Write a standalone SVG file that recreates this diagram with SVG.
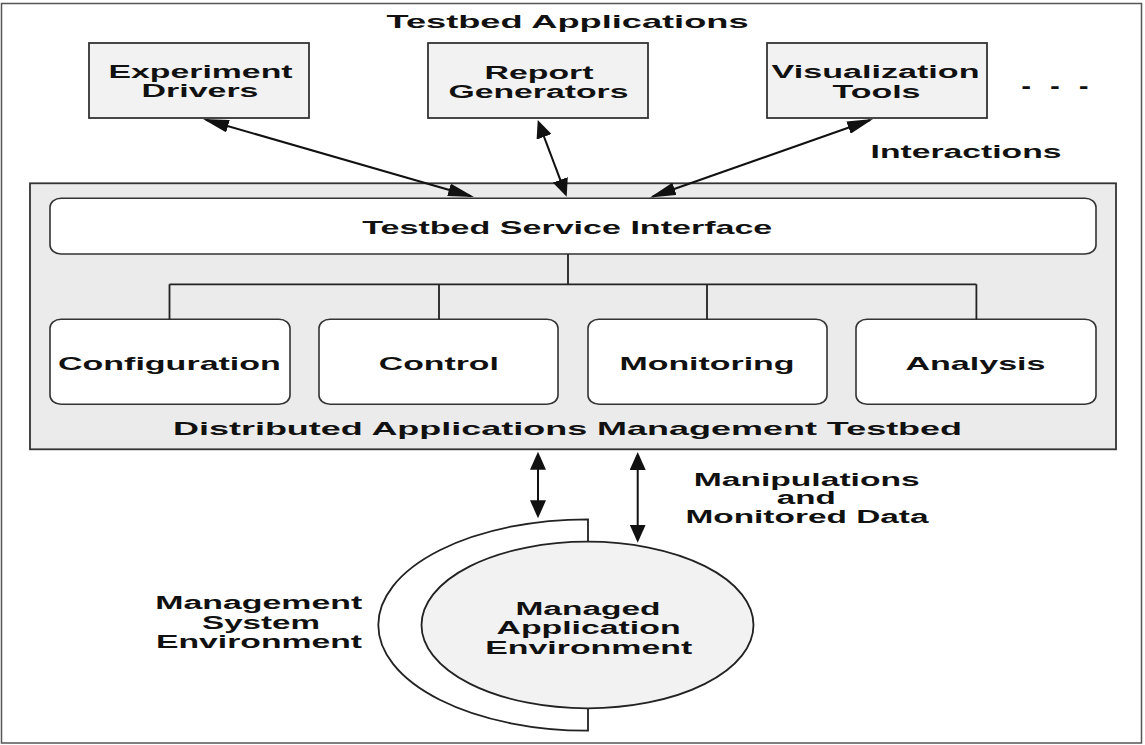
<svg xmlns="http://www.w3.org/2000/svg" width="1145" height="745" viewBox="0 0 1145 745">
<style>
.t{font-family:"Liberation Sans",Arial,Helvetica,sans-serif;font-weight:bold;fill:#111;text-anchor:middle;}
.s17{font-size:17.5px;}
.s18{font-size:18.5px;}
.box{fill:#f2f2f2;stroke:#333;stroke-width:1.8;}
.wbox{fill:#fff;stroke:#333;stroke-width:1.6;}
.ln{fill:none;stroke:#222;stroke-width:1.8;}
.arr{fill:none;stroke:#111;stroke-width:2;}
</style>
<defs>
<marker id="ah" markerUnits="userSpaceOnUse" markerWidth="18" markerHeight="16" viewBox="0 0 18 16" refX="15" refY="8" orient="auto-start-reverse"><path d="M0,0 L18,8 L0,16 z" fill="#111"/></marker>
<marker id="ahd" markerUnits="userSpaceOnUse" markerWidth="26" markerHeight="13" viewBox="0 0 26 13" refX="23" refY="6.5" orient="auto-start-reverse"><path d="M0,0 L26,6.5 L0,13 z" fill="#111"/></marker>
</defs>
<rect x="0" y="0" width="1145" height="745" fill="#fff"/>
<rect x="1.5" y="3.5" width="1140" height="739.5" fill="none" stroke="#555" stroke-width="1.5"/>

<text class="t s18" transform="translate(567.5,28) scale(1.85,1)" textLength="195.7" lengthAdjust="spacingAndGlyphs">Testbed Applications</text>

<g id="experiment-drivers">
<rect class="box" x="89" y="43" width="220" height="75"/>
<text class="t s17" transform="translate(200.5,78) scale(1.85,1)" textLength="99.5" lengthAdjust="spacingAndGlyphs">Experiment</text>
<text class="t s17" transform="translate(200,97) scale(1.85,1)" textLength="63.2" lengthAdjust="spacingAndGlyphs">Drivers</text>
</g>
<g id="report-generators">
<rect class="box" x="428" y="43" width="220" height="75"/>
<text class="t s17" transform="translate(539,79) scale(1.85,1)" textLength="58.9" lengthAdjust="spacingAndGlyphs">Report</text>
<text class="t s17" transform="translate(538.5,98) scale(1.85,1)" textLength="97.3" lengthAdjust="spacingAndGlyphs">Generators</text>
</g>
<g id="visualization-tools">
<rect class="box" x="767" y="43" width="220" height="75"/>
<text class="t s17" transform="translate(875.5,78) scale(1.85,1)" textLength="112.4" lengthAdjust="spacingAndGlyphs">Visualization</text>
<text class="t s17" transform="translate(876.5,98) scale(1.85,1)" textLength="47.6" lengthAdjust="spacingAndGlyphs">Tools</text>
</g>
<text class="t s17" transform="translate(1055,88.7) scale(1.85,1)" textLength="38.9" lengthAdjust="spacingAndGlyphs">. . .</text>
<text class="t s17" transform="translate(966,158) scale(1.85,1)" textLength="103.2" lengthAdjust="spacingAndGlyphs">Interactions</text>

<g id="testbed">
<rect x="30" y="183.3" width="1086" height="266" fill="#ebebeb" stroke="#333" stroke-width="1.8"/>
<text class="t s18" transform="translate(567.5,435) scale(1.85,1)" textLength="426.5" lengthAdjust="spacingAndGlyphs">Distributed Applications Management Testbed</text>
</g>
<g id="service-interface">
<rect class="wbox" x="50" y="198.3" width="1046" height="55.7" rx="11" ry="9"/>
<text class="t s18" transform="translate(567.3,234.3) scale(1.85,1)" textLength="221.6" lengthAdjust="spacingAndGlyphs">Testbed Service Interface</text>
</g>
<g id="configuration">
<rect class="wbox" x="50" y="319.3" width="240" height="85" rx="11" ry="9"/>
<text class="t s18" transform="translate(169.4,370) scale(1.85,1)" textLength="120.5" lengthAdjust="spacingAndGlyphs">Configuration</text>
</g>
<g id="control">
<rect class="wbox" x="319" y="319.3" width="239" height="85" rx="11" ry="9"/>
<text class="t s18" transform="translate(438.8,370) scale(1.85,1)" textLength="64.9" lengthAdjust="spacingAndGlyphs">Control</text>
</g>
<g id="monitoring">
<rect class="wbox" x="588" y="319.3" width="239" height="85" rx="11" ry="9"/>
<text class="t s18" transform="translate(707,370) scale(1.85,1)" textLength="94.6" lengthAdjust="spacingAndGlyphs">Monitoring</text>
</g>
<g id="analysis">
<rect class="wbox" x="856" y="319.3" width="240" height="85" rx="11" ry="9"/>
<text class="t s18" transform="translate(975.5,370) scale(1.85,1)" textLength="75.7" lengthAdjust="spacingAndGlyphs">Analysis</text>
</g>

<g id="management-system-environment">
<path d="M588,519.3 A209.7,105.7 0 0 0 588,730.7 Z" fill="#fff" stroke="#222" stroke-width="1.8"/>
<text class="t s17" transform="translate(258.7,609.3) scale(1.85,1)" textLength="111.9" lengthAdjust="spacingAndGlyphs">Management</text>
<text class="t s17" transform="translate(261,629.3) scale(1.85,1)" textLength="63.8" lengthAdjust="spacingAndGlyphs">System</text>
<text class="t s17" transform="translate(259,648.3) scale(1.85,1)" textLength="111.4" lengthAdjust="spacingAndGlyphs">Environment</text>
</g>
<g id="managed-application-environment">
<ellipse cx="587.5" cy="625" rx="166" ry="83.3" fill="#f2f2f2" stroke="#222" stroke-width="1.8"/>
<text class="t s17" transform="translate(588,615) scale(1.85,1)" textLength="78.4" lengthAdjust="spacingAndGlyphs">Managed</text>
<text class="t s17" transform="translate(588.5,634) scale(1.85,1)" textLength="99.5" lengthAdjust="spacingAndGlyphs">Application</text>
<text class="t s17" transform="translate(588.7,654) scale(1.85,1)" textLength="111.9" lengthAdjust="spacingAndGlyphs">Environment</text>
</g>
<g id="manipulations-label">
<text class="t s17" transform="translate(806.7,486) scale(1.85,1)" textLength="122.2" lengthAdjust="spacingAndGlyphs">Manipulations</text>
<text class="t s17" transform="translate(806.2,504.3) scale(1.85,1)" textLength="31.9" lengthAdjust="spacingAndGlyphs">and</text>
<text class="t s17" transform="translate(807,523.3) scale(1.85,1)" textLength="131.4" lengthAdjust="spacingAndGlyphs">Monitored Data</text>
</g>

<g id="connectors">
<path class="ln" d="M568,254 V284.3 M169.5,284.3 H976.4 M169.5,284.3 V319.3 M439,284.3 V319.3 M707,284.3 V319.3 M976.4,284.3 V319.3"/>
<line class="arr" x1="205.9" y1="119.8" x2="471.1" y2="196.2" marker-start="url(#ahd)" marker-end="url(#ahd)"/>
<line class="arr" x1="538.8" y1="122.8" x2="565.6" y2="193.9" marker-start="url(#ah)" marker-end="url(#ah)"/>
<line class="arr" x1="870.2" y1="120" x2="652.8" y2="196.5" marker-start="url(#ahd)" marker-end="url(#ahd)"/>
<line class="arr" x1="538" y1="454.7" x2="538" y2="515.3" marker-start="url(#ah)" marker-end="url(#ah)"/>
<line class="arr" x1="637.7" y1="455" x2="637.7" y2="539.7" marker-start="url(#ah)" marker-end="url(#ah)"/>
</g>
</svg>
